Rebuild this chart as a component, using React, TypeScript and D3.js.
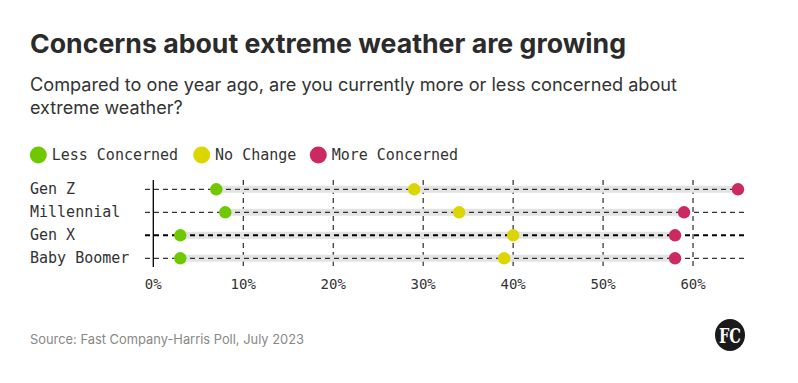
import React from "react";
import * as d3 from "d3";

const categories = ["Gen Z", "Millennial", "Gen X", "Baby Boomer"];
const lessConcerned = [7, 8, 3, 3];
const noChange = [29, 34, 40, 39];
const moreConcerned = [65, 59, 58, 58];
const xTicks = [0, 10, 20, 30, 40, 50, 60];
const seriesNames = ["Less Concerned", "No Change", "More Concerned"];
const seriesColors = ["#70c900", "#ddd500", "#cb2960"];

const W = 798;
const H = 383;

export default function App() {
  const x = d3.scaleLinear().domain([0, 66]).range([153.3, 747]);
  const y = d3.scalePoint<string>().domain(categories).range([189.3, 258.3]);
  const mono = "'DejaVu Sans Mono', 'Liberation Mono', monospace";
  const sans = "Inter, 'Open Sans', Lato, sans-serif";
  const series = [lessConcerned, noChange, moreConcerned];
  const legendX = [38.3, 201.7, 318.3];

  return (
    <svg width={W} height={H} style={{ position: "absolute", left: 0, top: 0, background: "#fff" }}>
      <rect width={W} height={H} fill="#fff" />
      <text x={30} y={53} fontFamily={sans} fontWeight={700} fontSize={26} fill="#2b2b2b" textLength={596} lengthAdjust="spacingAndGlyphs">
        Concerns about extreme weather are growing
      </text>
      <text x={30} y={91} fontFamily={sans} fontSize={18} fill="#333" textLength={647} lengthAdjust="spacingAndGlyphs">
        Compared to one year ago, are you currently more or less concerned about
      </text>
      <text x={30} y={114} fontFamily={sans} fontSize={18} fill="#333">
        extreme weather?
      </text>

      {seriesNames.map((n, i) => (
        <g key={n}>
          <circle cx={legendX[i]} cy={155} r={8.5} fill={seriesColors[i]} />
          <text x={legendX[i] + 13.4} y={160} fontFamily={mono} fontSize={15} fill="#333">
            {n}
          </text>
        </g>
      ))}

      {/* vertical dashed grid */}
      {xTicks.slice(1).map((t) => (
        <line key={t} x1={x(t)} x2={x(t)} y1={180} y2={266.5} stroke="#000" strokeWidth={1} strokeDasharray="5,4" />
      ))}
      {/* gray range bars */}
      {categories.map((c, i) => (
        <line
          key={c + "bar"}
          x1={x(lessConcerned[i])}
          x2={x(moreConcerned[i])}
          y1={y(c)}
          y2={y(c)}
          stroke="#e3e3e3"
          strokeWidth={7}
        />
      ))}
      {/* horizontal dashed grid */}
      {categories.map((c, i) => (
        <line
          key={c + "grid"}
          x1={145}
          x2={747}
          y1={y(c)}
          y2={y(c)}
          stroke="#000"
          strokeWidth={i === 2 ? 2 : 1}
          strokeDasharray="5,4"
        />
      ))}
      <line x1={x(0)} x2={x(0)} y1={180} y2={267} stroke="#000" strokeWidth={1.3} />

      {categories.map((c) => (
        <text key={c + "lab"} x={30} y={(y(c) as number) + 5} fontFamily={mono} fontSize={15} fill="#333">
          {c}
        </text>
      ))}

      {series.map((s, si) =>
        s.map((v, i) => (
          <circle key={si + "-" + i} cx={x(v)} cy={y(categories[i]) as number} r={6.2} fill={seriesColors[si]} />
        ))
      )}

      {xTicks.map((t) => (
        <text key={"t" + t} x={x(t)} y={289} textAnchor="middle" fontFamily={mono} fontSize={14} fill="#333">
          {t + "%"}
        </text>
      ))}

      <text x={30} y={344} fontFamily={sans} fontSize={13} fill="#888" textLength={274} lengthAdjust="spacingAndGlyphs">
        Source: Fast Company-Harris Poll, July 2023
      </text>

      <ellipse cx={730} cy={335} rx={15} ry={16} fill="#1a1a1a" />
      <text x={730} y={343} textAnchor="middle" fontFamily="'DejaVu Serif', 'Liberation Serif', serif" fontWeight={700} fontSize={21} fill="#fff" textLength={22} lengthAdjust="spacingAndGlyphs">
        FC
      </text>
    </svg>
  );
}
